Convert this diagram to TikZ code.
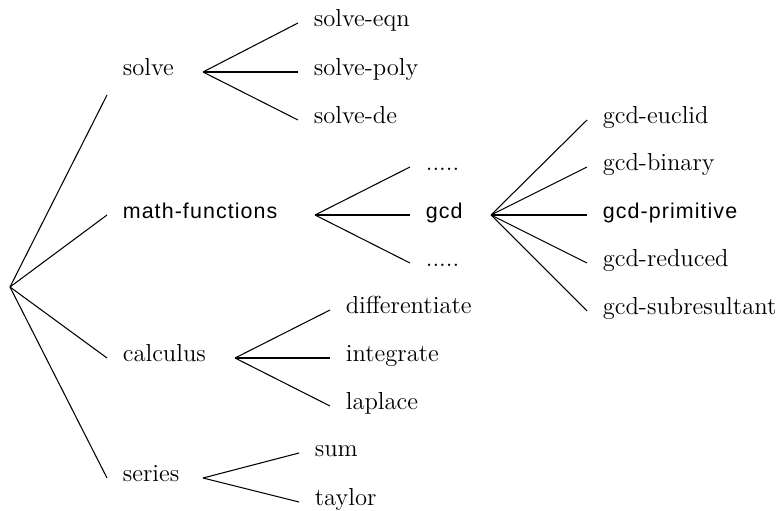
\documentclass[tikz,border=0pt]{standalone}
\usepackage{fontspec}
\newfontfamily\helvsans[LetterSpace=5]{Liberation Sans}
\usetikzlibrary{positioning}

\begin{document}
\begin{tikzpicture}[x=0.02cm,y=-0.02cm,
    lbl/.style={anchor=west,inner xsep=0.31cm,inner ysep=0pt,text height=0.7em,text depth=0.25em,font=\fontsize{14}{16}\selectfont},
    sflbl/.style={lbl,font=\fontsize{12.2}{14}\selectfont\helvsans},
    twig/.style={line width=0.6pt},
    trunk/.style={line width=1.3pt}]
    \useasboundingbox (0,0) rectangle (776,510);
    % root and first level
    \coordinate (root) at (10,287);
    \coordinate (solve-in) at (107,95);
    \node[lbl] (solve) at (107,72) {solve};
    \node[sflbl] (mathfn) at (107,215) {math-functions};
    \node[lbl] (calc) at (107,358) {calculus};
    \node[lbl] (series) at (107,478) {series};
    \draw[twig] (root)--(solve-in);
    \draw[twig] (root)--(mathfn.west);
    \draw[twig] (root)--(calc.west);
    \draw[twig] (root)--(series.west);
    % solve
    \coordinate (solve-f) at (203,72);
    \node[lbl] (eqn) at (298,23) {solve-eqn};
    \node[lbl] (poly) at (298,72) {solve-poly};
    \node[lbl] (de) at (298,120) {solve-de};
    \draw[twig] (solve-f)--(eqn.west);
    \draw[trunk] (solve-f)--(poly.west);
    \draw[twig] (solve-f)--(de.west);
    % math-functions
    \coordinate (mathfn-f) at (315,215);
    \node[lbl] (dotsa) at (410,167) {.....};
    \node[sflbl] (gcd) at (410,215) {gcd};
    \node[lbl] (dotsb) at (410,263) {.....};
    \draw[twig] (mathfn-f)--(dotsa.west);
    \draw[trunk] (mathfn-f)--(gcd.west);
    \draw[twig] (mathfn-f)--(dotsb.west);
    % gcd
    \coordinate (gcd-f) at (491,215);
    \node[lbl] (euclid) at (587,120) {gcd-euclid};
    \node[lbl] (binary) at (587,167) {gcd-binary};
    \node[sflbl] (prim) at (587,215) {gcd-primitive};
    \node[lbl] (reduced) at (587,263) {gcd-reduced};
    \node[lbl] (subres) at (587,311) {gcd-subresultant};
    \draw[twig] (gcd-f)--(euclid.west);
    \draw[twig] (gcd-f)--(binary.west);
    \draw[trunk] (gcd-f)--(prim.west);
    \draw[twig] (gcd-f)--(reduced.west);
    \draw[twig] (gcd-f)--(subres.west);
    % calculus
    \coordinate (calc-f) at (235,358);
    \node[lbl] (diff) at (330,310) {differentiate};
    \node[lbl] (integ) at (330,358) {integrate};
    \node[lbl] (lapl) at (330,406) {laplace};
    \draw[twig] (calc-f)--(diff.west);
    \draw[trunk] (calc-f)--(integ.west);
    \draw[twig] (calc-f)--(lapl.west);
    % series
    \coordinate (series-f) at (203,478);
    \node[lbl] (sum) at (299,453) {sum};
    \node[lbl] (taylor) at (299,502) {taylor};
    \draw[twig] (series-f)--(sum.west);
    \draw[twig] (series-f)--(taylor.west);
  \end{tikzpicture}
\end{document}
